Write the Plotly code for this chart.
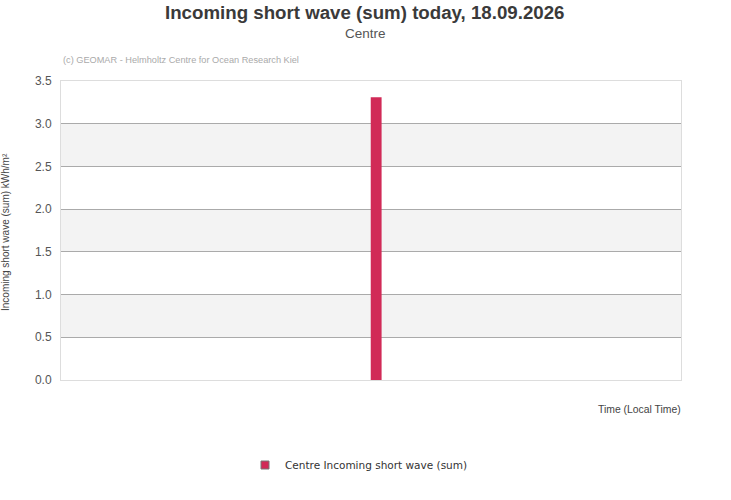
import plotly.graph_objects as go

# data
hours = [12.2]
values = [3.31]
series_name = "Centre Incoming short wave (sum)"
y_ticks = [0.0, 0.5, 1.0, 1.5, 2.0, 2.5, 3.0, 3.5]

bar_color = "#d12a57"

# plot area in pixels (left, top, right, bottom)
L, T, R, B = 61, 81, 681, 380
W, H = 731, 500


def px(x):
    return (x - L) / (R - L)


def py(y):
    return (B - y) / (B - T)


fig = go.Figure()

fig.add_trace(go.Bar(
    x=hours, y=values, width=0.42, marker_color=bar_color,
    marker_line_width=0, showlegend=False, name=series_name))

# legend entry with grey outlined square
fig.add_trace(go.Scatter(
    x=[None], y=[None], mode="markers", name=series_name,
    marker=dict(symbol="square", size=8, color=bar_color,
                line=dict(color="#777777", width=1))))

# alternating grey bands between grid lines
for i in range(len(y_ticks) - 1):
    if i % 2 == 1:
        fig.add_shape(type="rect", xref="paper", yref="y", x0=0, x1=1,
                      y0=y_ticks[i], y1=y_ticks[i + 1],
                      fillcolor="#f3f3f3", line_width=0, layer="below")

fig.update_xaxes(range=[0, 24], showticklabels=False, showgrid=False,
                 zeroline=False, showline=True, mirror=True,
                 linecolor="#dddddd", linewidth=1, automargin=False)
fig.update_yaxes(range=[0, 3.5], tickvals=y_ticks, tickformat=".1f",
                 showgrid=True, gridcolor="#aaaaaa", gridwidth=1,
                 zeroline=False, showline=True, mirror=True,
                 linecolor="#dddddd", linewidth=1, automargin=False,
                 ticks="outside", ticklen=6, tickcolor="rgba(0,0,0,0)",
                 tickfont=dict(family="Liberation Sans, Arial", size=12, color="#555555"))

fig.update_layout(
    width=W, height=H,
    margin=dict(l=L, r=W - R, t=T, b=H - B, autoexpand=False),
    paper_bgcolor="white", plot_bgcolor="white",
    showlegend=True,
    legend=dict(orientation="h", x=px(359), xanchor="center", y=py(465), yanchor="middle",
                font=dict(family="DejaVu Sans, Verdana", size=10.5, color="#333333"),
                itemwidth=30),
)

fig.add_annotation(text="<b>Incoming short wave (sum) today, 18.09.2026</b>",
                   xref="paper", yref="paper", x=px(365), y=py(13),
                   xanchor="center", yanchor="middle", showarrow=False,
                   font=dict(family="Liberation Sans Narrow, Liberation Sans, Arial",
                             size=18.7, color="#3a3a3a"))
fig.add_annotation(text="Centre", xref="paper", yref="paper", x=px(365), y=py(33),
                   xanchor="center", yanchor="middle", showarrow=False,
                   font=dict(family="Liberation Sans, Arial", size=13.5, color="#555555"))
fig.add_annotation(text="(c) GEOMAR - Helmholtz Centre for Ocean Research Kiel",
                   xref="paper", yref="paper", x=px(61), y=py(60),
                   xanchor="left", yanchor="middle", showarrow=False,
                   font=dict(family="Liberation Sans, Arial", size=9.2, color="#aaaaaa"))
fig.add_annotation(text="Time (Local Time)", xref="paper", yref="paper", x=1.003, y=py(409),
                   xanchor="right", yanchor="middle", showarrow=False,
                   font=dict(family="Liberation Sans, Arial", size=10.4, color="#444444"))
fig.add_annotation(text="Incoming short wave (sum) kWh/m²", xref="paper", yref="paper",
                   x=px(5), y=py(232), textangle=-90,
                   xanchor="center", yanchor="middle", showarrow=False,
                   font=dict(family="Liberation Sans, Arial", size=10, color="#444444"))

# drop the browser's default body margin so the figure sits at the page corner
fig.write_html("out.html", config={"displayModeBar": False},
               post_script="document.body.style.margin='0';")
